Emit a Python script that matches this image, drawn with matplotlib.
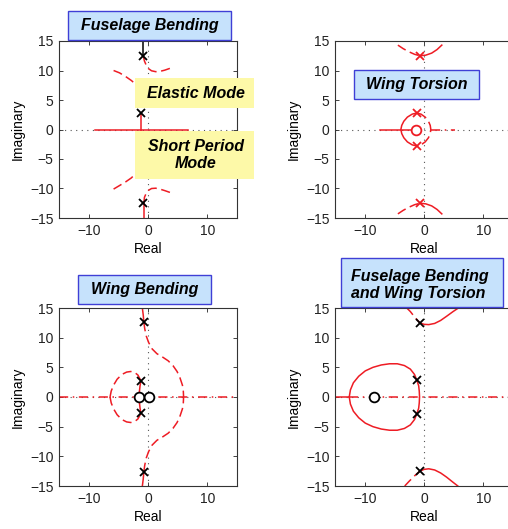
import numpy as np
import matplotlib
matplotlib.use("Agg")
import matplotlib.pyplot as plt
from matplotlib.patches import Rectangle

plt.rcParams['font.family'] = ['Liberation Sans', 'DejaVu Sans']

RED = '#ee1c24'

# --- fuselage bending (top left) ---
fb_poles_re = [-0.8, -0.8, -1.2, -1.2]
fb_poles_im = [12.5, -12.5, 2.8, -2.8]
fb_upper_re = [-0.8, -0.6, -0.3, 0.1, 0.6, 1.3, 2.0, 2.8, 3.8]
fb_upper_im = [12.5, 11.6, 10.9, 10.3, 9.95, 9.8, 9.85, 10.05, 10.4]
fb_lower_re = [-0.7, -0.6, -0.3, 0.1, 0.6, 1.3, 2.0, 2.8, 3.8]
fb_lower_im = [-12.5, -11.5, -10.8, -10.3, -10.0, -9.95, -10.1, -10.35, -10.7]
fb_left_up_re = [-5.8, -4.8, -3.8, -2.8, -2.0, -1.4]
fb_left_up_im = [10.0, 9.6, 9.0, 8.3, 7.6, 6.0]
fb_left_lo_re = [-5.8, -4.8, -3.8, -2.8, -2.0, -1.4]
fb_left_lo_im = [-10.1, -9.5, -8.9, -8.2, -7.4, -6.0]
fb_axis_re = [-8.9, 6.7]

# --- wing torsion (top right) ---
wt_poles_re = [-0.7, -0.7, -1.2, -1.2]
wt_poles_im = [12.5, -12.5, 2.8, -2.8]
wt_zero_re = [-1.4]
wt_top_left_re = [-4.4, -3.5, -2.6, -1.6, -0.7]
wt_top_left_im = [14.3, 13.7, 13.2, 12.75, 12.5]
wt_top_right_re = [-0.7, 0.3, 1.3, 2.2, 3.0]
wt_top_right_im = [12.5, 12.6, 12.95, 13.55, 14.3]
wt_circ_left_re = [-1.2, -2.0, -2.8, -3.4, -3.75, -3.9, -3.75, -3.4, -2.8, -2.0, -1.2]
wt_circ_right_re = [-1.2, -0.5, 0.2, 0.75, 1.05, 1.15, 1.05, 0.75, 0.2, -0.5, -1.2]
wt_circ_im = [2.8, 2.6, 2.1, 1.4, 0.7, 0.0, -0.7, -1.4, -2.1, -2.6, -2.8]
wt_axis_solid = [-7.5, -1.4]
wt_axis_dash = [1.15, 5.2]

# --- wing bending (bottom left) ---
wb_poles_re = [-0.7, -0.7, -1.2, -1.2]
wb_poles_im = [12.6, -12.6, 2.75, -2.75]
wb_zeros_re = [-1.5, 0.15]
wb_top_re = [-0.95, -0.8, -0.7]
wb_top_im = [15.0, 13.8, 12.6]
wb_swing_re = [-0.7, -0.55, -0.3, 0.1, 0.7, 1.5, 2.5, 3.4, 4.2, 4.9, 5.4, 5.8, 5.95, 6.0]
wb_swing_im = [12.6, 11.5, 10.3, 9.2, 8.1, 7.3, 6.7, 6.1, 5.3, 4.3, 3.2, 2.0, 1.0, 0.0]
wb_loop_re = [-1.2, -1.7, -2.2, -2.9, -3.6, -4.4, -5.2, -5.8, -6.2, -6.4]
wb_loop_im = [2.75, 3.7, 4.1, 4.3, 4.2, 3.8, 3.0, 2.0, 1.0, 0.0]
wb_inner_re = [-1.2, -1.35, -1.45, -1.5, -1.45, -1.35, -1.2]
wb_inner_im = [2.75, 1.8, 0.9, 0.0, -0.9, -1.8, -2.75]

# --- fuselage bending and wing torsion (bottom right) ---
fw_poles_re = [-0.7, -0.7, -1.2, -1.2]
fw_poles_im = [12.5, -12.5, 2.8, -2.8]
fw_zero_re = [-8.5]
fw_loop_re = [-1.2, -1.6, -2.3, -3.3, -4.5, -5.8, -7.2, -8.6, -9.9, -11.0, -11.9, -12.4, -12.6]
fw_loop_im = [2.8, 3.8, 4.7, 5.3, 5.6, 5.6, 5.4, 5.0, 4.4, 3.5, 2.4, 1.2, 0.0]
fw_arc_re = [-1.2, -0.9, -0.8, -0.75, -0.8, -0.9, -1.2]
fw_arc_im = [2.8, 1.9, 1.0, 0.0, -1.0, -1.9, -2.8]
fw_top_left_re = [-2.9, -2.3, -1.6, -0.7]
fw_top_left_im = [15.0, 14.4, 13.5, 12.5]
fw_top_right_re = [-0.7, 0.0, 0.8, 1.8, 2.8, 3.8, 4.9, 5.8]
fw_top_right_im = [12.5, 12.25, 12.2, 12.4, 12.9, 13.6, 14.4, 15.0]
fw_bot_left_re = [-3.25, -2.5, -1.6, -0.7]
fw_bot_left_im = [-15.0, -14.2, -13.3, -12.5]
fw_bot_right_re = [-0.7, 0.0, 0.8, 1.8, 2.8, 3.8, 4.8, 5.7]
fw_bot_right_im = [-12.5, -12.2, -12.1, -12.3, -12.8, -13.5, -14.3, -15.0]
fw_axis_solid = [-15.0, -12.6]
fw_axis_dash = [-12.6, 15.0]

ticks_x = [-10, 0, 10]
ticks_y = [-15, -10, -5, 0, 5, 10, 15]

W, H = 508, 529
fig = plt.figure(figsize=(W / 100, H / 100), dpi=100)


def add_ax(l, t, r, b):
    ax = fig.add_axes([l / W, 1 - b / H, (r - l) / W, (b - t) / H])
    ax.set_xlim(-15, 15)
    ax.set_ylim(-15, 15)
    ax.set_xticks(ticks_x)
    ax.set_yticks(ticks_y)
    ax.tick_params(direction='in', length=3, width=0.6, top=True, right=True,
                   labelsize=10, pad=4, colors='#222222')
    for s in ax.spines.values():
        s.set_linewidth(0.8)
        s.set_color('#333333')
    ax.set_xlabel('Real', fontsize=10, labelpad=3)
    ax.set_ylabel('Imaginary', fontsize=10, labelpad=4)
    ax.axhline(0, color='#555555', ls=(0, (1, 4)), lw=0.8, zorder=1)
    ax.axvline(0, color='#555555', ls=(0, (1, 4)), lw=0.8, zorder=1)
    return ax


def box(l, t, r, b, fc, ec, txt, cx=None, cy=None, align='center'):
    lw = 1.0 if ec != 'none' else 0
    fig.add_artist(Rectangle((l / W, 1 - b / H), (r - l) / W, (b - t) / H,
                             transform=fig.transFigure, fc=fc, ec=ec, lw=lw, zorder=5))
    cx = (l + r) / 2 if cx is None else cx
    cy = (t + b) / 2 if cy is None else cy
    fig.text(cx / W, 1 - cy / H, txt, ha='center', va='center', fontsize=11.5,
             fontweight='bold', fontstyle='italic', multialignment=align,
             linespacing=1.2, zorder=6)


dash = (0, (6, 3))
dashdot = (0, (6, 3, 1, 3))

# fuselage bending
ax1 = add_ax(59, 41, 237, 218)
ax1.plot([-0.8, -0.8], [15, 12.5], color='black', lw=1.1)
ax1.plot([-0.7, -0.7], [-12.5, -15], color=RED, lw=1.1)
ax1.plot(fb_upper_re, fb_upper_im, color=RED, lw=1.1, ls=dash)
ax1.plot(fb_lower_re, fb_lower_im, color=RED, lw=1.1, ls=dash)
ax1.plot(fb_left_up_re, fb_left_up_im, color=RED, lw=1.1, ls=dash)
ax1.plot(fb_left_lo_re, fb_left_lo_im, color=RED, lw=1.1, ls=dash)
ax1.plot(fb_axis_re, [0, 0], color=RED, lw=1.1)
ax1.plot([-1.2, -1.2], [2.8, -2.8], color=RED, lw=1.1)
ax1.plot(fb_poles_re, fb_poles_im, 'x', color='black', ms=6, mew=1.3)

# wing torsion
ax2 = add_ax(335, 41, 513, 218)
ax2.plot(wt_top_left_re, wt_top_left_im, color=RED, lw=1.1, ls=dash)
ax2.plot(wt_top_right_re, wt_top_right_im, color=RED, lw=1.1)
ax2.plot(wt_top_left_re, -np.array(wt_top_left_im), color=RED, lw=1.1, ls=dash)
ax2.plot(wt_top_right_re, -np.array(wt_top_right_im), color=RED, lw=1.1)
ax2.plot(wt_circ_left_re, wt_circ_im, color=RED, lw=1.1)
ax2.plot(wt_circ_right_re, wt_circ_im, color=RED, lw=1.1, ls=(0, (7, 3)))
ax2.plot(wt_axis_solid, [0, 0], color=RED, lw=1.1)
ax2.plot(wt_axis_dash, [0, 0], color=RED, lw=1.1, ls=dashdot)
ax2.plot(wt_poles_re, wt_poles_im, 'x', color=RED, ms=6, mew=1.3)
ax2.plot(wt_zero_re, [0], 'o', mfc='white', mec=RED, ms=7, mew=1.3)

# wing bending
ax3 = add_ax(59, 308, 237, 486)
ax3.plot([-15, 15], [0, 0], color=RED, lw=1.1, ls=dashdot)
for sgn in (1, -1):
    ax3.plot(wb_top_re, sgn * np.array(wb_top_im), color=RED, lw=1.1)
    ax3.plot(wb_swing_re, sgn * np.array(wb_swing_im), color=RED, lw=1.1, ls=dash)
    ax3.plot(wb_loop_re, sgn * np.array(wb_loop_im), color=RED, lw=1.1, ls=dash)
ax3.plot(wb_inner_re, wb_inner_im, color=RED, lw=1.1)
ax3.plot(wb_poles_re, wb_poles_im, 'x', color='black', ms=6, mew=1.3)
ax3.plot(wb_zeros_re, [0, 0], 'o', mfc='white', mec='black', ms=7, mew=1.3)

# fuselage bending and wing torsion
ax4 = add_ax(335, 308, 513, 486)
ax4.plot(fw_axis_solid, [0, 0], color=RED, lw=1.1)
ax4.plot(fw_axis_dash, [0, 0], color=RED, lw=1.1, ls=dashdot)
for sgn in (1, -1):
    ax4.plot(fw_loop_re, sgn * np.array(fw_loop_im), color=RED, lw=1.1)
ax4.plot(fw_arc_re, fw_arc_im, color=RED, lw=1.1)
ax4.plot(fw_top_left_re, fw_top_left_im, color=RED, lw=1.1, ls=dash)
ax4.plot(fw_top_right_re, fw_top_right_im, color=RED, lw=1.1)
ax4.plot(fw_bot_left_re, fw_bot_left_im, color=RED, lw=1.1, ls=dash)
ax4.plot(fw_bot_right_re, fw_bot_right_im, color=RED, lw=1.1)
ax4.plot(fw_poles_re, fw_poles_im, 'x', color='black', ms=6, mew=1.3)
ax4.plot(fw_zero_re, [0], 'o', mfc='white', mec='black', ms=7, mew=1.3)

BLUE_FC, BLUE_EC, YELLOW = '#c6e2fc', '#3f3fd6', '#fdf9a8'
box(68, 11, 231, 40, BLUE_FC, BLUE_EC, 'Fuselage Bending')
box(135, 78, 254, 108, YELLOW, 'none', 'Elastic Mode', cx=196)
box(135, 131, 254, 179, YELLOW, 'none', 'Short Period\nMode', cx=196)
box(354, 70, 479, 99, BLUE_FC, BLUE_EC, 'Wing Torsion')
box(78, 275, 211, 304, BLUE_FC, BLUE_EC, 'Wing Bending')
box(341, 258, 503, 307, BLUE_FC, BLUE_EC, 'Fuselage Bending\nand Wing Torsion',
    cx=420, cy=285, align='left')

fig.savefig('out.png', dpi=100)
